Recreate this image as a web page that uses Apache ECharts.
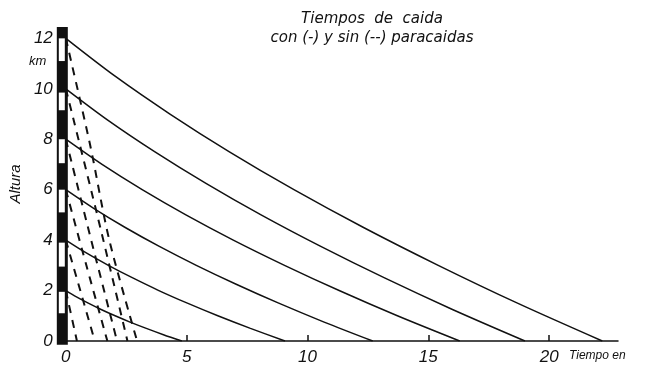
<!DOCTYPE html>
<html>
<head>
<meta charset="utf-8">
<script src="https://cdn.jsdelivr.net/npm/echarts@6/dist/echarts.min.js"></script>
<style>
  html, body { margin: 0; padding: 0; background: #fff; }
  #main { width: 661px; height: 366px; }
</style>
</head>
<body>
<div id="main"></div>
<script>
// tiempos en minutos, alturas en km
var xTicks = [5, 10, 15, 20];
var xLabels = [0, 5, 10, 15, 20];
var yLabels = [0, 2, 4, 6, 8, 10, 12];

// con paracaidas (-)
var con12 = [[0, 12], [2.04, 10.5], [4.31, 9], [6.77, 7.5], [9.44, 6], [12.32, 4.5], [15.41, 3], [18.69, 1.5], [22.2, 0]];
var con10 = [[0, 10], [1.75, 8.75], [3.69, 7.5], [5.8, 6.25], [8.08, 5], [10.55, 3.75], [13.19, 2.5], [16.0, 1.25], [19.0, 0]];
var con8 = [[0, 8], [1.5, 7], [3.16, 6], [4.97, 5], [6.93, 4], [9.05, 3], [11.31, 2], [13.72, 1], [16.3, 0]];
var con6 = [[0, 6], [1.17, 5.25], [2.46, 4.5], [3.87, 3.75], [5.4, 3], [7.05, 2.25], [8.81, 1.5], [10.69, 0.75], [12.7, 0]];
var con4 = [[0, 4], [0.83, 3.5], [1.76, 3], [2.77, 2.5], [3.85, 2], [5.03, 1.5], [6.29, 1], [7.64, 0.5], [9.07, 0]];
var con2 = [[0, 2], [0.44, 1.75], [0.93, 1.5], [1.46, 1.25], [2.04, 1], [2.66, 0.75], [3.33, 0.5], [4.04, 0.25], [4.8, 0]];

// sin paracaidas (--)
var sin12 = [[0, 12], [1.0, 7.8], [1.8, 4], [2.95, 0]];
var sin10 = [[0, 10], [1.3, 5], [2.55, 0]];
var sin8 = [[0, 8], [1.05, 4], [2.12, 0]];
var sin6 = [[0, 6], [0.85, 3], [1.72, 0]];
var sin4 = [[0, 4], [0.6, 2], [1.2, 0]];
var sin2 = [[0, 2], [0.46, 0]];

// barra de escala: [desde, hasta, 0 = negro / 1 = blanco]
var escala = [[-0.15, 12.45, 0], [1.1, 1.95, 1], [2.95, 3.9, 1], [5.1, 6.0, 1], [7.05, 8.0, 1], [9.15, 9.85, 1], [11.1, 12.0, 1]];

var ink = '#111';
var font = 'Liberation Sans';

function solid(data) {
  return { type: 'line', data: data, smooth: 0.3, symbol: 'none', silent: true,
    lineStyle: { color: ink, width: 1.5 }, z: 3 };
}
function dashed(data) {
  return { type: 'line', data: data, smooth: 0.3, symbol: 'none', silent: true,
    lineStyle: { color: ink, width: 2, type: [8, 7] }, z: 3 };
}

var myChart = echarts.init(document.getElementById('main'));
myChart.setOption({
  animation: false,
  backgroundColor: '#fff',
  title: {
    text: 'Tiempos  de  caida\ncon (-) y sin (--) paracaidas',
    left: 367, top: 5, textAlign: 'center',
    textStyle: { fontFamily: 'DejaVu Sans', fontStyle: 'italic', fontWeight: 'normal', fontSize: 15, lineHeight: 19, color: ink }
  },
  grid: { left: 58, right: 43, top: 27, bottom: 25 },
  xAxis: {
    type: 'value', min: 0, max: 22.85,
    splitLine: { show: false },
    axisLine: { lineStyle: { color: ink, width: 1.5 } },
    axisTick: { customValues: xTicks, inside: true, length: 6, lineStyle: { color: ink, width: 1.5 } },
    axisLabel: { customValues: xLabels, margin: 8, color: ink, fontFamily: font, fontStyle: 'italic', fontSize: 17 }
  },
  yAxis: {
    type: 'value', min: 0, max: 12.45,
    name: 'Altura', nameLocation: 'middle', nameGap: 35, nameRotate: 90,
    nameTextStyle: { color: ink, fontFamily: font, fontStyle: 'italic', fontSize: 15 },
    splitLine: { show: false },
    axisLine: { show: false },
    axisTick: { show: false },
    axisLabel: { customValues: yLabels, margin: 13, color: ink, fontFamily: font, fontStyle: 'italic', fontSize: 17 }
  },
  graphic: [
    { type: 'text', left: 29, top: 55, style: { text: 'km', fill: ink, font: 'italic 13px "Liberation Sans"' } },
    { type: 'text', left: 569, top: 350, style: { text: 'Tiempo en', fill: ink, font: 'italic 12px "Liberation Sans"' } }
  ],
  series: [
    {
      type: 'custom', data: escala, silent: true, z: 5,
      renderItem: function (params, api) {
        var top = api.coord([0, api.value(1)]);
        var bot = api.coord([0, api.value(0)]);
        var white = api.value(2) === 1;
        return {
          type: 'rect',
          shape: { x: white ? top[0] - 7 : top[0] - 9, y: top[1], width: white ? 6 : 11, height: bot[1] - top[1] },
          style: { fill: white ? '#fff' : ink }
        };
      }
    },
    solid(con12), solid(con10), solid(con8), solid(con6), solid(con4), solid(con2),
    dashed(sin12), dashed(sin10), dashed(sin8), dashed(sin6), dashed(sin4), dashed(sin2)
  ]
});
</script>
</body>
</html>
